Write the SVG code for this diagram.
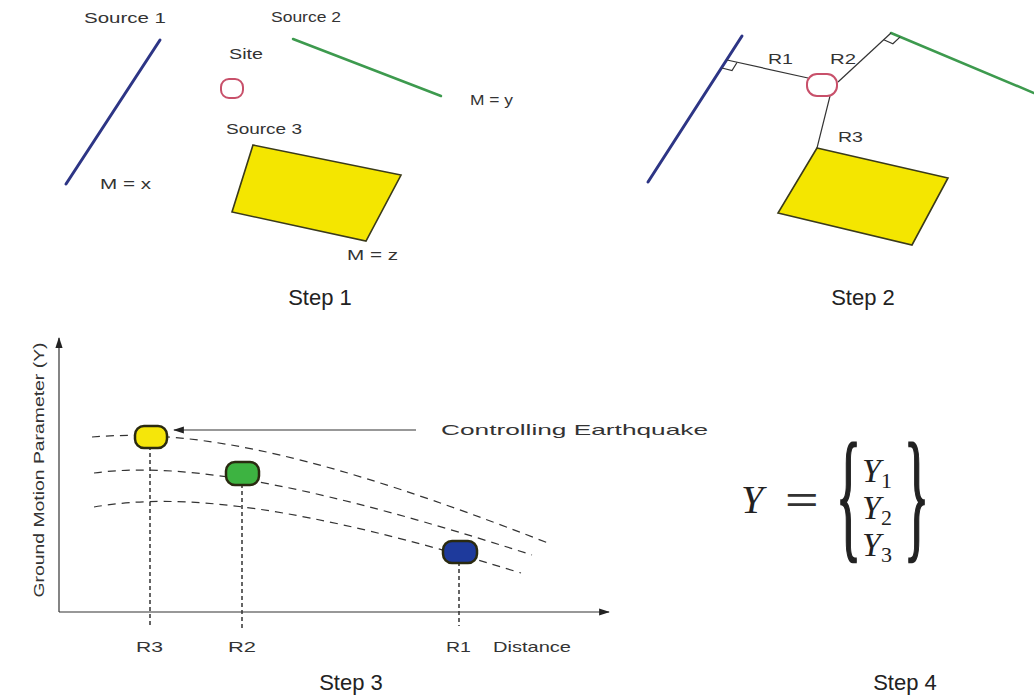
<svg xmlns="http://www.w3.org/2000/svg" width="1034" height="700" viewBox="0 0 1034 700">
<style>
text{font-family:"Liberation Sans",Arial,sans-serif;fill:#333}
.lbl{font-size:14px}
.big{font-size:15px}
.step{font-size:22px;fill:#222;text-anchor:middle}
.math{font-family:"Liberation Serif","DejaVu Serif",serif;font-style:italic;fill:#222}
.brace{font-family:"Liberation Serif","DejaVu Serif",serif;fill:#222;stroke:#222;stroke-width:2.5}
.blue{stroke:#2d3585;stroke-width:3;fill:none;stroke-linecap:round}
.green{stroke:#3d9a4e;stroke-width:2.5;fill:none;stroke-linecap:round}
.quad{fill:#f4e600;stroke:#3a3a1a;stroke-width:1.6}
.site{fill:#fff;stroke:#c8506a;stroke-width:2}
.thin{stroke:#333;stroke-width:1.2;fill:none}
.dash{stroke:#333;stroke-width:1.2;fill:none;stroke-dasharray:8 6}
.vdash{stroke:#333;stroke-width:1.5;fill:none;stroke-dasharray:4 3}
.dot{stroke:#2a2a10;stroke-width:2.5}
</style>
<defs>
<marker id="ah" viewBox="0 0 12 10" refX="11" refY="5" markerWidth="12" markerHeight="9" markerUnits="userSpaceOnUse" orient="auto"><path d="M0,1 L12,5 L0,9 Z" fill="#222"/></marker>
</defs>
<rect width="1034" height="700" fill="#fff"/>

<!-- Step 1 -->
<g id="step1">
<g id="source1"><line class="blue" x1="160" y1="40" x2="66" y2="184"/><text class="lbl" x="84" y="23" textLength="82" lengthAdjust="spacingAndGlyphs">Source 1</text><text class="lbl" x="100" y="189" textLength="51" lengthAdjust="spacingAndGlyphs">M = x</text></g>
<g id="source2"><line class="green" x1="293" y1="39" x2="441" y2="96"/><text class="lbl" x="271" y="22" textLength="70" lengthAdjust="spacingAndGlyphs">Source 2</text><text class="lbl" x="470" y="105" textLength="43" lengthAdjust="spacingAndGlyphs">M = y</text></g>
<g id="site1"><text class="lbl" x="229" y="59" textLength="34" lengthAdjust="spacingAndGlyphs">Site</text><rect class="site" x="221" y="79" width="22" height="19" rx="8"/></g>
<g id="source3"><text class="lbl" x="226" y="134" textLength="76" lengthAdjust="spacingAndGlyphs">Source 3</text><polygon class="quad" points="253,145 401,175 366,241 232,212"/><text class="lbl" x="347" y="260" textLength="51" lengthAdjust="spacingAndGlyphs">M = z</text></g>
<text class="step" x="320" y="305">Step 1</text>
</g>

<!-- Step 2 -->
<g id="step2">
<line class="blue" x1="742" y1="36" x2="648" y2="182"/>
<line class="green" x1="891" y1="33" x2="1034" y2="93"/>
<g id="conn2">
<line class="thin" x1="727" y1="60" x2="808" y2="78"/>
<path class="thin" d="M722,68 L732,70.5 L737,62.5"/>
<line class="thin" x1="838" y1="82" x2="891" y2="33"/>
<path class="thin" d="M883.7,39.8 L892.9,43.7 L900.2,36.9"/>
<line class="thin" x1="830" y1="96" x2="817" y2="148"/>
</g>
<text class="lbl" x="768" y="64" textLength="25" lengthAdjust="spacingAndGlyphs">R1</text>
<text class="lbl" x="830" y="64" textLength="26" lengthAdjust="spacingAndGlyphs">R2</text>
<text class="lbl" x="838" y="142" textLength="25" lengthAdjust="spacingAndGlyphs">R3</text>
<rect class="site" x="807" y="74" width="30" height="22" rx="10"/>
<polygon class="quad" points="817,148 948,178 912,245 778,213"/>
<text class="step" x="863" y="305">Step 2</text>
</g>

<!-- Step 3 -->
<g id="step3">
<g id="axes">
<line class="thin" x1="59" y1="612" x2="59" y2="338" stroke-width="1.5" marker-end="url(#ah)"/>
<line class="thin" x1="59" y1="612" x2="609" y2="612" stroke-width="1.5" marker-end="url(#ah)"/>
</g>
<text x="44" y="470" font-size="14" fill="#222" text-anchor="middle" transform="rotate(-90 44 470)" textLength="255" lengthAdjust="spacingAndGlyphs">Ground Motion Parameter (Y)</text>
<g id="curves">
<path class="dash" d="M92,437 C200,428 330,458 548,543"/>
<path class="dash" d="M94,473 C190,460 330,490 532,555"/>
<path class="dash" d="M94,507 C180,492 300,505 521,573"/>
<line class="vdash" x1="150" y1="446" x2="150" y2="627"/>
<line class="vdash" x1="242" y1="484" x2="242" y2="628"/>
<line class="vdash" x1="459" y1="562" x2="459" y2="626"/>
<line class="thin" x1="416" y1="430" x2="174" y2="430" stroke-width="1.3" marker-end="url(#ah)"/>
</g>
<g id="eq-yellow"><rect class="dot" x="135" y="426" width="32" height="22" rx="9" fill="#f5e60a"/></g>
<g id="eq-green"><rect class="dot" x="226" y="462" width="33" height="23" rx="9" fill="#3db341"/></g>
<g id="eq-blue"><rect class="dot" x="443" y="541" width="34" height="22" rx="9" fill="#1e3a9c"/></g>
<text class="big" x="441" y="435" textLength="267" lengthAdjust="spacingAndGlyphs">Controlling Earthquake</text>
<text class="big" x="136" y="652" textLength="27" lengthAdjust="spacingAndGlyphs">R3</text>
<text class="big" x="228" y="652" textLength="28" lengthAdjust="spacingAndGlyphs">R2</text>
<text class="big" x="446" y="652" textLength="25" lengthAdjust="spacingAndGlyphs">R1</text>
<text class="big" x="493" y="652" textLength="78" lengthAdjust="spacingAndGlyphs">Distance</text>
<text class="step" x="351" y="690">Step 3</text>
</g>

<!-- Step 4 -->
<g id="step4">
<text class="math" x="741" y="513" font-size="40">Y</text>
<text font-size="36" font-family="Liberation Serif,serif" fill="#222" transform="translate(785,512) scale(1.6,1)">=</text>
<text class="brace" font-size="145" transform="translate(836,543) scale(0.36,1)">{</text>
<text class="brace" font-size="145" transform="translate(904,543) scale(0.36,1)">}</text>
<text class="math" x="862" y="482" font-size="34">Y<tspan font-size="22" font-style="normal" dy="6">1</tspan></text>
<text class="math" x="862" y="519" font-size="34">Y<tspan font-size="22" font-style="normal" dy="6">2</tspan></text>
<text class="math" x="862" y="556" font-size="34">Y<tspan font-size="22" font-style="normal" dy="6">3</tspan></text>
<text class="step" x="905" y="690">Step 4</text>
</g>
</svg>
